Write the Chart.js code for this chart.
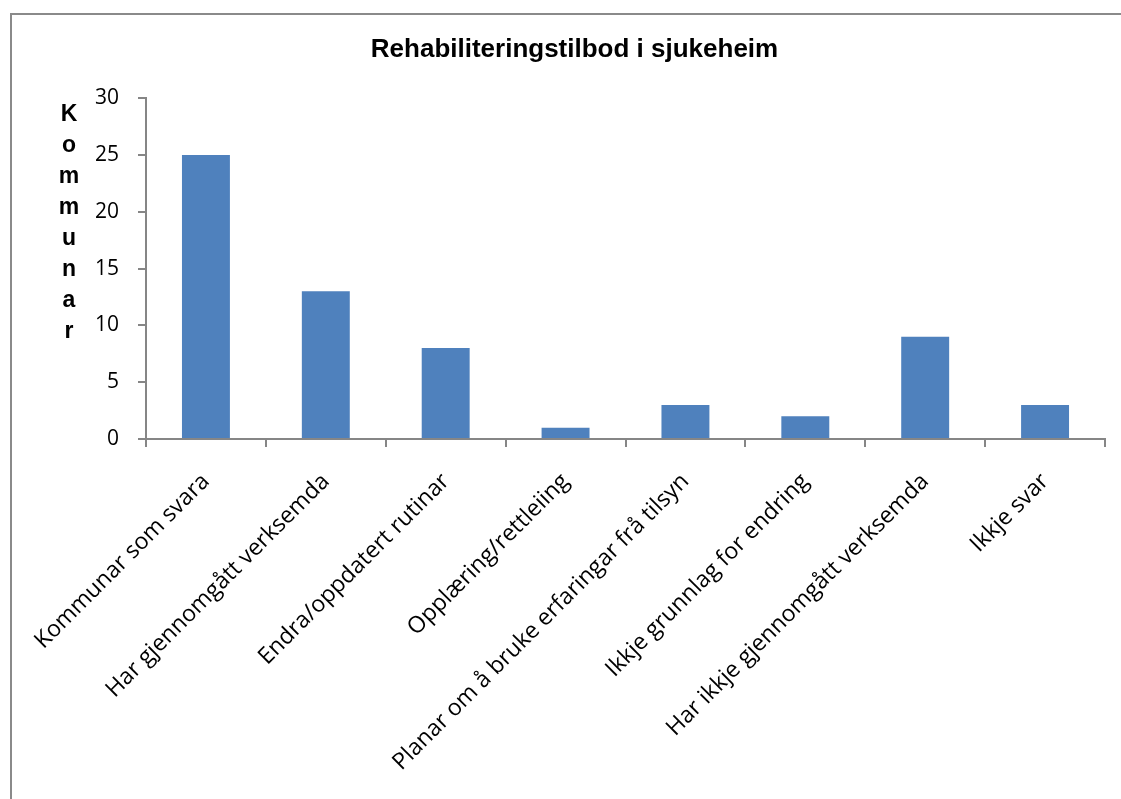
<!DOCTYPE html>
<html lang="nn">
<head>
<meta charset="utf-8">
<title>Rehabiliteringstilbod i sjukeheim</title>
<script src="https://cdn.jsdelivr.net/npm/chart.js@4/dist/chart.umd.min.js"></script>
<style>
  html, body { margin: 0; padding: 0; background: #ffffff; }
  #wrap { width: 1121px; height: 799px; position: relative; }
</style>
</head>
<body>
<div id="wrap"><canvas id="chart" width="1121" height="799"></canvas></div>
<script>
// Svarkategoriar og tal på kommunar
const categories = [
  'Kommunar som svara',
  'Har gjennomgått verksemda',
  'Endra/oppdatert rutinar',
  'Opplæring/rettleiing',
  'Planar om å bruke erfaringar frå tilsyn',
  'Ikkje grunnlag for endring',
  'Har ikkje gjennomgått verksemda',
  'Ikkje svar'
];
const kommunar = [25, 13, 8, 1, 3, 2, 9, 3];
const yTicks = [0, 5, 10, 15, 20, 25, 30];
const chartTitle = 'Rehabiliteringstilbod i sjukeheim';
const yTitle = 'Kommunar';

const axisGrey = '#868686';

// Ramme rundt diagrammet
const framePlugin = {
  id: 'frame',
  beforeDraw(chart) {
    const ctx = chart.ctx;
    ctx.save();
    ctx.fillStyle = '#ffffff';
    ctx.fillRect(0, 0, chart.width, chart.height);
    ctx.strokeStyle = '#8a8a8a';
    ctx.lineWidth = 2;
    ctx.strokeRect(11, 14, chart.width + 20, chart.height + 20);
    ctx.restore();
  }
};

// Aksetittel med bokstavane stabla loddrett
const stackedTitlePlugin = {
  id: 'stackedTitle',
  afterDraw(chart) {
    const ctx = chart.ctx;
    ctx.save();
    ctx.font = 'bold 23px "Liberation Sans", Arial, sans-serif';
    ctx.fillStyle = '#000000';
    ctx.textAlign = 'center';
    ctx.textBaseline = 'middle';
    const x = 69, y0 = 115, step = 31;
    Array.from(yTitle).forEach((ch, i) => ctx.fillText(ch, x, y0 + i * step));
    ctx.restore();
  }
};

new Chart(document.getElementById('chart'), {
  type: 'bar',
  data: {
    labels: categories,
    datasets: [{
      label: yTitle,
      data: kommunar,
      backgroundColor: '#4F81BD',
      borderWidth: 0,
      categoryPercentage: 1.0,
      barPercentage: 0.4
    }]
  },
  options: {
    responsive: false,
    animation: false,
    devicePixelRatio: 1,
    layout: { padding: { top: 34, left: 44, right: 16, bottom: 0 } },
    plugins: {
      legend: { display: false },
      tooltip: { enabled: false },
      title: {
        display: true,
        text: chartTitle,
        color: '#000000',
        font: { family: '"Liberation Sans", Arial, sans-serif', size: 26, weight: 'bold', lineHeight: 1.2 },
        padding: { top: 0, bottom: 33 }
      }
    },
    scales: {
      x: {
        grid: {
          display: true,
          offset: true,
          drawOnChartArea: false,
          drawTicks: true,
          tickLength: 8,
          color: axisGrey,
          lineWidth: 2
        },
        border: { display: true, color: axisGrey, width: 2 },
        ticks: {
          autoSkip: false,
          maxRotation: 45,
          minRotation: 45,
          padding: 21,
          color: '#000000',
          font: { family: '"Open Sans", sans-serif', size: 23 }
        },
        afterFit(scale) { scale.height = 360; }
      },
      y: {
        min: 0,
        max: 30,
        afterBuildTicks(scale) { scale.ticks = yTicks.map(v => ({ value: v })); },
        grid: {
          display: true,
          drawOnChartArea: false,
          drawTicks: true,
          tickLength: 8,
          color: axisGrey,
          lineWidth: 2
        },
        border: { display: true, color: axisGrey, width: 2 },
        ticks: {
          padding: 19,
          color: '#000000',
          font: { family: '"Open Sans", sans-serif', size: 21 }
        },
        afterFit(scale) { scale.width = 102; }
      }
    }
  },
  plugins: [framePlugin, stackedTitlePlugin]
});
</script>
</body>
</html>
